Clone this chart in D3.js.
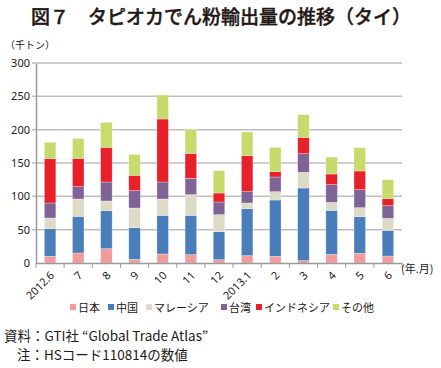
<!DOCTYPE html>
<html><head><meta charset="utf-8">
<script src="https://cdn.jsdelivr.net/npm/d3@7"></script>
<style>
body{margin:0;background:#fff;}
text{font-family:"Noto Sans CJK JP","Noto Sans",sans-serif;fill:#231815;}
</style></head>
<body><svg id="c" width="441" height="368"></svg>
<script>
const months = ["2012.6","7","8","9","10","11","12","2013.1","2","3","4","5","6"];
const seriesNames = ["日本","中国","マレーシア","台湾","インドネシア","その他"];
const japan     = [10, 15, 21.5, 5.5, 13.5, 12.5, 5, 11, 10, 3.5, 13, 14.5, 10.5];
const china     = [41.5, 55, 57, 47.5, 58, 59, 42, 70.5, 84.5, 109, 66, 55, 38.5];
const malaysia  = [16, 26, 14.5, 29.5, 24.5, 31, 25.5, 8.5, 12.5, 23.5, 12, 13.5, 18];
const taiwan    = [22.5, 18.5, 28.5, 26, 25.5, 24.5, 19, 17, 22, 28, 26.5, 27, 19];
const indonesia = [66.5, 42.5, 52, 23, 94.5, 37.5, 13.5, 54, 8, 24.5, 16, 28, 10.5];
const other     = [24.5, 30, 37.5, 31.5, 36, 36, 33.5, 35.5, 36.5, 34, 25.5, 35, 28.5];
const yTicks = [0, 50, 100, 150, 200, 250, 300];
const colors = ["#F29B9B","#4A7EBB","#DDDAC6","#7F6396","#E8202A","#C6DB6C"];

const seriesVals = [japan, china, malaysia, taiwan, indonesia, other];
const rows = months.map((m,i)=>{const r={month:m}; seriesNames.forEach((s,j)=>r[s]=seriesVals[j][i]); return r;});
const stacked = d3.stack().keys(seriesNames)(rows);

const svg = d3.select("#c");
const L=36, R=402, T=63, B=263;
const x = d3.scaleBand().domain(months).range([L,R]).paddingInner(0.59).paddingOuter(0.295);
const y = d3.scaleLinear().domain([0,300]).range([B,T]);

// title
svg.append("text").attr("x",221).attr("y",24).attr("text-anchor","middle")
  .style("font-size","19px").style("font-weight","500").style("stroke","#231815").style("stroke-width","0.4")
  .text("図７　タピオカでん粉輸出量の推移（タイ）");
svg.append("text").attr("x",5).attr("y",49).style("font-size","10px").text("（千トン）");

// grid
svg.append("g").selectAll("line").data(yTicks.filter(d=>d>0)).join("line")
  .attr("x1",L-4).attr("x2",R).attr("y1",d=>y(d)).attr("y2",d=>y(d))
  .attr("stroke","#BEBEBE").attr("stroke-width",1.5);

// y axis
const yAxis = d3.axisLeft(y).tickValues(yTicks).tickSize(0).tickPadding(6);
const gy = svg.append("g").attr("transform",`translate(${L},0)`).call(yAxis);
gy.select(".domain").attr("stroke","#9A9A9A").attr("stroke-width",1.5);
gy.selectAll("text").style("font-size","11px").style("font-family","'Noto Sans',sans-serif").attr("fill","#231815");

// bars
svg.append("g").selectAll("g").data(stacked).join("g").attr("fill",(d,i)=>colors[i])
  .selectAll("rect").data(d=>d).join("rect")
  .attr("x",d=>x(d.data.month)).attr("width",x.bandwidth())
  .attr("y",d=>y(d[1])).attr("height",d=>y(d[0])-y(d[1]))
  .attr("stroke","rgba(255,255,255,0.5)").attr("stroke-width",0.6);

// x axis
const xAxis = d3.axisBottom(x).tickSize(0).tickPadding(0);
const gx = svg.append("g").attr("transform",`translate(0,${B})`).call(xAxis);
gx.select(".domain").attr("stroke","#9A9A9A").attr("stroke-width",1.5);
gx.selectAll("text").style("font-size","11px").style("font-family","'Noto Sans',sans-serif").attr("fill","#231815")
  .attr("text-anchor","end").attr("dy",0).attr("y",0)
  .attr("transform","translate(5,13) rotate(-45)");
// band-boundary ticks
const step = x.step();
svg.append("g").selectAll("line").data(d3.range(months.length+1)).join("line")
  .attr("x1",i=>L+i*step).attr("x2",i=>L+i*step).attr("y1",B).attr("y2",B+5)
  .attr("stroke","#9A9A9A").attr("stroke-width",1);
svg.append("text").attr("x",401).attr("y",273).style("font-size","11px").text("(年.月)");

// legend
const legX = [70,108,146,221,256,333];
const leg = svg.append("g");
seriesNames.forEach((s,i)=>{
  leg.append("rect").attr("x",legX[i]).attr("y",304).attr("width",6).attr("height",6).attr("fill",colors[i]);
  leg.append("text").attr("x",legX[i]+8).attr("y",312).style("font-size",  "11px").text(s);
});

// notes
svg.append("text").attr("x",4).attr("y",341).style("font-size","13.5px").text("資料：GTI社 “Global Trade Atlas”");
svg.append("text").attr("x",17).attr("y",360).style("font-size","13.5px").text("注：HSコード110814の数値");
</script></body></html>
